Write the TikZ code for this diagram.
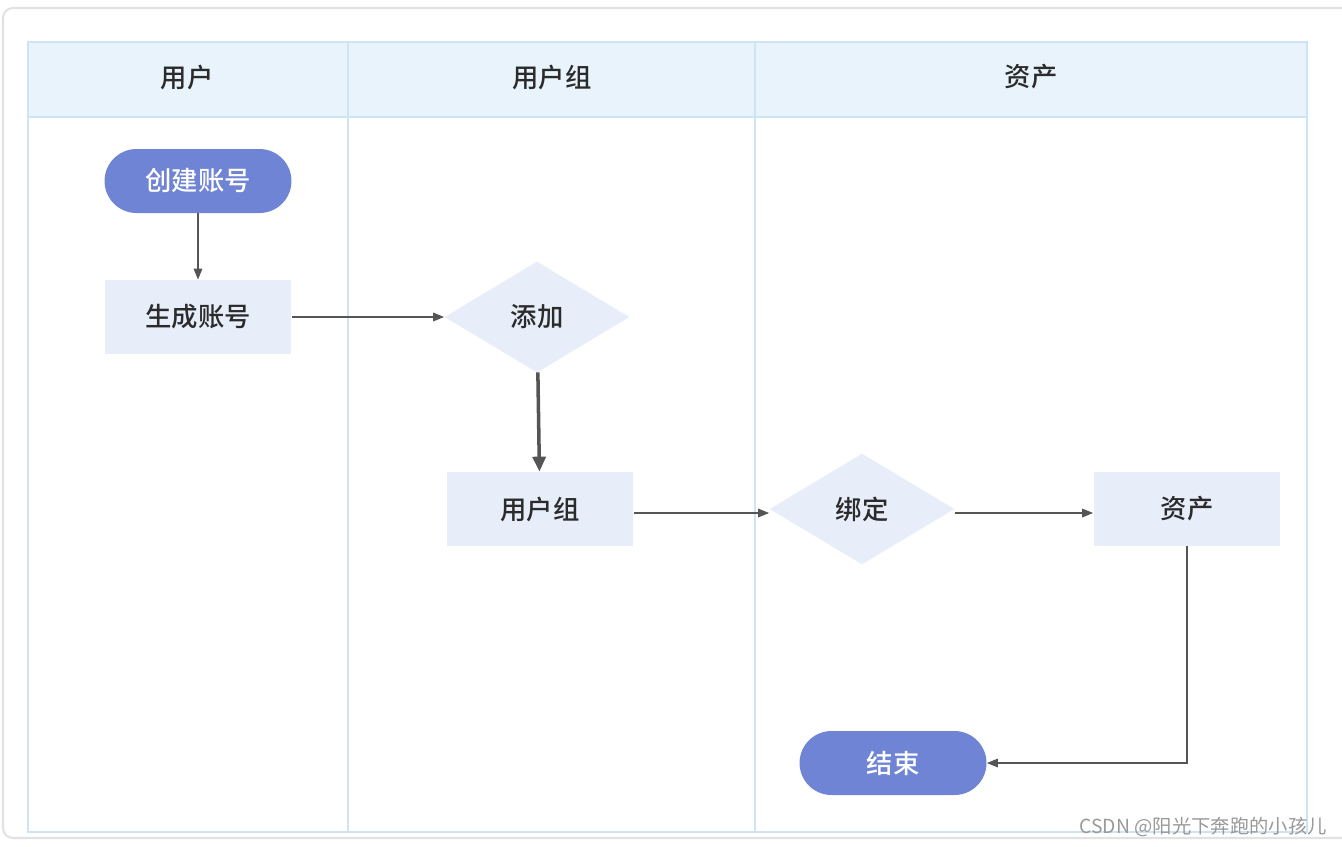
\documentclass[tikz,border=0pt]{standalone}
\usepackage{fontspec}
\newfontfamily\cjk[BoldFont={Noto Sans CJK SC Medium}]{Noto Sans CJK SC}
\usetikzlibrary{shapes.geometric,arrows.meta}

\definecolor{laneline}{HTML}{CFE4F3}
\definecolor{lanehead}{HTML}{E8F3FC}
\definecolor{stepfill}{HTML}{E8EDFA}
\definecolor{termfill}{HTML}{6F84D4}
\definecolor{flowgray}{HTML}{555555}
\definecolor{framegray}{HTML}{E2E2E2}
\definecolor{inkdark}{HTML}{2B2B2B}

\begin{document}
\begin{tikzpicture}[x=0.02cm,y=-0.02cm,
    font=\cjk\fontsize{15}{18}\selectfont\bfseries,
    lanetitle/.style={text=inkdark},
    terminal/.style={fill=termfill,text=white,rounded corners=0.64cm,
      minimum width=3.74cm,minimum height=1.28cm,inner sep=0pt},
    process/.style={fill=stepfill,text=inkdark,
      minimum width=3.74cm,minimum height=1.48cm,inner sep=0pt},
    decision/.style={diamond,fill=stepfill,text=inkdark,
      minimum width=3.7cm,minimum height=2.22cm,inner sep=0pt},
    flow/.style={draw=flowgray,line width=0.9pt,
      -{Triangle[length=2.2mm,width=1.7mm]}},
    bigflow/.style={draw=flowgray,line width=2pt,
      -{Triangle[length=3mm,width=2.6mm]}}]
  \useasboundingbox (0,0) rectangle (1342,846);
  \clip (0,0) rectangle (1342,846);

  % 1. Frame and swimlanes
  \draw[framegray,line width=1.2pt,rounded corners=0.2cm] (3,8) rectangle (1360,838);
  \fill[lanehead] (28,42) rectangle (1307,117);
  \draw[laneline,line width=1.2pt] (28,42) rectangle (1307,832);
  \draw[laneline,line width=1.2pt] (28,117) -- (1307,117);
  \draw[laneline,line width=1.2pt] (348,42) -- (348,832);
  \draw[laneline,line width=1.2pt] (755,42) -- (755,832);

  \node[lanetitle] (userlane)  at (187,77)  {用户};
  \node[lanetitle] (grouplane) at (552,77)  {用户组};
  \node[lanetitle] (assetlane) at (1031,77) {资产};

  % 2. Steps
  \node[terminal] (create) at (198,181) {创建账号};
  \node[process]  (gen)    at (198,317) {生成账号};
  \node[decision] (add)    at (537,317) {添加};
  \node[process]  (group)  at (540,509) {用户组};
  \node[decision] (bind)   at (862,509) {绑定};
  \node[process]  (asset)  at (1187,509) {资产};
  \node[terminal] (finish) at (893,763) {结束};

  % 3. Connectors
  \draw[flow] (create) -- (gen);
  \draw[flow] (gen) -- (add);
  \draw[bigflow] (add) -- (group);
  \draw[flow] ([yshift=-0.08cm]group.east) -- ([yshift=-0.08cm]bind.west);
  \draw[flow] ([yshift=-0.08cm]bind.east) -- ([yshift=-0.08cm]asset.west);
  \draw[flow] (asset.south) |- (finish.east);

  % 4. Watermark
  \node[font=\cjk\fontsize{11}{13}\selectfont,text=gray!80,anchor=east,inner sep=0pt]
    (mark) at (1327,827) {CSDN @阳光下奔跑的小孩儿};
\end{tikzpicture}
\end{document}
